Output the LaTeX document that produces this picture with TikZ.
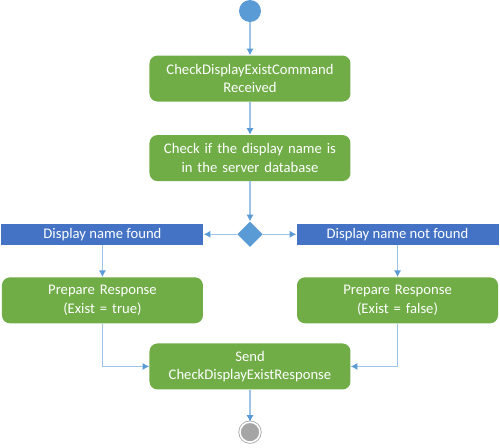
\documentclass[tikz,border=0pt]{standalone}
\usepackage{fontspec}
\setmainfont{Carlito}
\usepackage{tikz}
\usetikzlibrary{positioning}
\usetikzlibrary{shapes,arrows.meta}
\definecolor{actgreen}{RGB}{112,173,71}
\definecolor{barblue}{RGB}{68,114,196}
\definecolor{nodeblue}{RGB}{91,155,213}
\definecolor{linkblue}{RGB}{157,195,230}
\definecolor{endgray}{RGB}{165,165,165}
\tikzstyle{act} = [rectangle, fill=actgreen, text=white, text width=145pt, align=center,
                minimum width=150.75pt, minimum height=34.5pt, rounded corners=6pt, inner sep=0pt]
\tikzstyle{bar} = [rectangle, fill=barblue, text=white, minimum width=151.5pt,
                minimum height=15.75pt, inner sep=0pt]
\tikzstyle{line} = [draw=linkblue, line width=1.1pt, -{Latex[length=5pt,width=5.5pt,color=nodeblue]}]

\begin{document}
\begin{tikzpicture}[font=\fontsize{11}{14}\selectfont]
            \useasboundingbox (-187.5pt,8.25pt) rectangle (187.5pt,-327pt);
            \node[circle, fill=nodeblue, minimum size=16.5pt, inner sep=0pt](start) at (0,0){};
            \node[act, below=24.75pt of start](received){CheckDisplayExistCommand\\Received};
            \node[act, below=24.75pt of received](check){Check if the display name is\\in the server database};
            \node[diamond, fill=nodeblue, minimum width=19pt, minimum height=19pt, inner sep=0pt, below=30pt of check](dec){};
            \node[bar, left=25pt of dec](found){Display name found};
            \node[bar, right=25pt of dec](notfound){Display name not found};
            \node[act, below=24pt of found](preptrue){Prepare Response\\(Exist = true)};
            \node[act, below=24pt of notfound](prepfalse){Prepare Response\\(Exist = false)};
            \node[act, below=72pt of dec](send){Send\\CheckDisplayExistResponse};
            \node[circle, fill=endgray, draw=endgray, line width=0.6pt, double=white, double distance=1.2pt,
                  minimum size=15pt, inner sep=0pt, below=24pt of send](end){};
            \path[line] (start) -- (received);
            \path[line] (received) -- (check);
            \path[line] (check) -- (dec);
            \path[line] (dec) -- (found);
            \path[line] (dec) -- (notfound);
            \path[line] (found) -- (preptrue);
            \path[line] (notfound) -- (prepfalse);
            \path[line] (preptrue.south) |- (send.west);
            \path[line] (prepfalse.south) |- (send.east);
            \path[line] (send) -- (end);
        \end{tikzpicture}
\end{document}
